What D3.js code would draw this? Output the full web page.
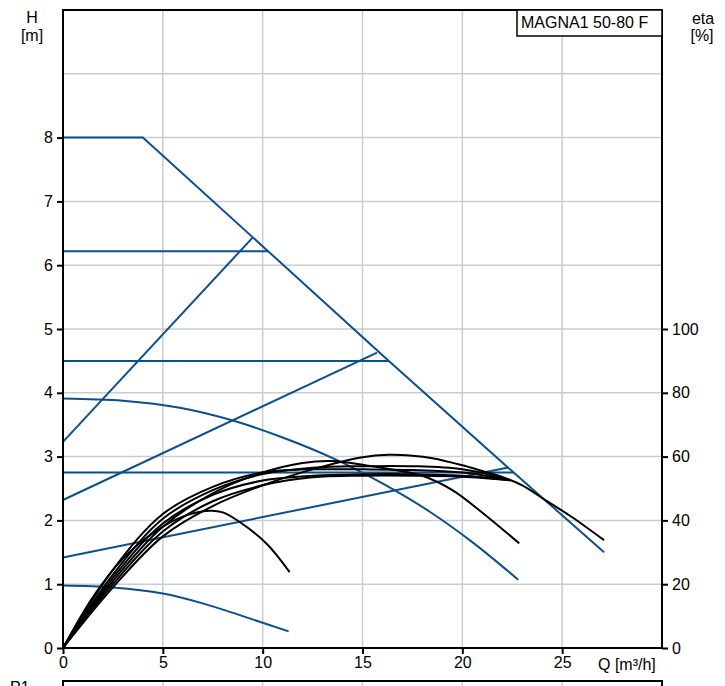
<!DOCTYPE html>
<meta charset="utf-8">
<head>
<style>
  body { margin: 0; background: #fff; }
  text { font-family: "Liberation Sans", Arial, sans-serif; font-size: 16px; fill: #000; }
</style>
</head>
<body>
<div id="chart"></div>
<script src="https://d3js.org/d3.v7.min.js"></script>
<script>

// axis ticks
var qTicks = [0, 5, 10, 15, 20, 25];
var hTicks = [0, 1, 2, 3, 4, 5, 6, 7, 8];
var etaTicks = [0, 20, 40, 60, 80, 100];
var hGrid = [1, 2, 3, 4, 5, 6, 7, 8, 9];

// pump curves, [Q m3/h, H m]
var maxCurve = [[0, 8], [4, 8], [10.27, 6.22], [16.32, 4.5], [22.57, 2.75], [27.1, 1.5]];
var constPressure = [
  [[0, 6.22], [10.27, 6.22]],
  [[0, 4.5], [16.32, 4.5]],
  [[0, 2.75], [22.57, 2.75]]
];
var propPressure = [
  [[0, 3.23], [9.52, 6.44]],
  [[0, 2.32], [15.73, 4.63]],
  [[0, 1.42], [22.3, 2.83]]
];
var fixedSpeed = [
  [[0, 3.91], [3, 3.875], [5.85, 3.765], [8.5, 3.565], [11, 3.3], [13.7, 2.95], [16, 2.58], [18.35, 2.14], [20.5, 1.66], [22.8, 1.07]],
  [[0, 0.98], [2.5, 0.95], [5, 0.855], [7, 0.7], [9, 0.5], [11.3, 0.26]]
];

// efficiency curves, [Q m3/h, eta %]
var etaCurves = [
  [[0, 0], [2.5, 19], [5, 35], [7.5, 44.5], [10, 51], [12.5, 56], [15, 59.8], [16.3, 60.6], [17.5, 60.3], [18.5, 59.5], [20, 57.3], [21, 55.5], [22, 53.6], [23, 51], [24.2, 46.2], [25.5, 41], [27.1, 33.8]],
  [[0, 0], [2.5, 21], [5, 38], [7.5, 48.5], [10, 55], [12, 58], [13.5, 58.6], [15.2, 57.2], [16.7, 55.7], [18, 54], [19.5, 49.5], [20.85, 43.2], [22.85, 32.8]],
  [[0, 0], [1.5, 16], [3, 28], [4.5, 36], [6, 41.2], [7.35, 43], [8, 42.5], [8.85, 39.5], [10.2, 32.7], [11.35, 23.8]],
  [[0, 0], [2.5, 23], [5, 40.5], [7.5, 49.5], [10, 54.5], [12.5, 56.5], [15, 57], [17.5, 57], [20, 56], [22.4, 52.6]],
  [[0, 0], [2.5, 24.5], [5, 42], [7.5, 50.5], [10, 55], [12.5, 56], [15, 56], [17.5, 55.8], [20, 55], [22.4, 52.6]],
  [[0, 0], [2.5, 22], [5, 39], [7.5, 48], [10, 52.5], [12.5, 54], [15, 54.5], [17.5, 54.5], [20, 54], [22.4, 52.6]],
  [[0, 0], [2.5, 20], [5, 36.5], [7.5, 46], [10, 51], [12.5, 53.5], [15, 54], [17.5, 54], [20, 53.7], [22.4, 52.6]]
];

var width = 725, height = 686;
var plot = {left: 63, right: 662, top: 10, bottom: 648};
var blue = "#0b4f8c";

var svg = d3.select("#chart").append("svg")
  .attr("width", width)
  .attr("height", height);

var x = d3.scaleLinear().domain([0, 30]).range([plot.left, plot.right]);
var y = d3.scaleLinear().domain([0, 10]).range([plot.bottom, plot.top]);
var yEta = d3.scaleLinear().domain([0, 100]).range([y(0), y(5)]);

// grid
svg.append("g").selectAll("line").data(qTicks.slice(1))
  .enter().append("line")
  .attr("x1", function(d) { return x(d); }).attr("x2", function(d) { return x(d); })
  .attr("y1", plot.top).attr("y2", plot.bottom)
  .attr("stroke", "#c9cdd1").attr("stroke-width", 1.5);
svg.append("g").selectAll("line").data(hGrid)
  .enter().append("line")
  .attr("x1", plot.left).attr("x2", plot.right)
  .attr("y1", function(d) { return y(d); }).attr("y2", function(d) { return y(d); })
  .attr("stroke", "#c9cdd1").attr("stroke-width", 1.5);

// lower panel (cut off by the window)
svg.append("g").selectAll("line").data(qTicks.slice(1))
  .enter().append("line")
  .attr("x1", function(d) { return x(d); }).attr("x2", function(d) { return x(d); })
  .attr("y1", 681).attr("y2", height)
  .attr("stroke", "#c9cdd1").attr("stroke-width", 1.5);
svg.append("path")
  .attr("d", "M" + plot.left + "," + height + "V681H" + plot.right + "V" + height)
  .attr("fill", "none").attr("stroke", "#000").attr("stroke-width", 2);
svg.append("text").attr("x", 10).attr("y", 693).text("P1");

var line = d3.line().x(function(d) { return x(d[0]); }).y(function(d) { return y(d[1]); });
var smooth = d3.line().curve(d3.curveCatmullRom.alpha(0.5))
  .x(function(d) { return x(d[0]); }).y(function(d) { return y(d[1]); });
var etaLine = d3.line().curve(d3.curveCatmullRom.alpha(0.5))
  .x(function(d) { return x(d[0]); }).y(function(d) { return yEta(d[1]); });

var curves = svg.append("g").attr("fill", "none");
constPressure.concat(propPressure).forEach(function(c) {
  curves.append("path").attr("d", line(c)).attr("stroke", blue).attr("stroke-width", 2);
});
fixedSpeed.forEach(function(c) {
  curves.append("path").attr("d", smooth(c)).attr("stroke", blue).attr("stroke-width", 2);
});
curves.append("path").attr("d", line(maxCurve)).attr("stroke", blue).attr("stroke-width", 2);
etaCurves.forEach(function(c) {
  curves.append("path").attr("d", etaLine(c)).attr("stroke", "#000").attr("stroke-width", 2);
});

// frame
svg.append("rect")
  .attr("x", plot.left).attr("y", plot.top)
  .attr("width", plot.right - plot.left).attr("height", plot.bottom - plot.top)
  .attr("fill", "none").attr("stroke", "#000").attr("stroke-width", 2);

// axes
svg.append("g")
  .attr("transform", "translate(0," + plot.bottom + ")")
  .call(d3.axisBottom(x).tickValues(qTicks).tickSize(6).tickPadding(3))
  .call(function(g) { g.select(".domain").remove(); });
svg.append("g")
  .attr("transform", "translate(" + plot.left + ",0)")
  .call(d3.axisLeft(y).tickValues(hTicks).tickSize(6).tickPadding(4))
  .call(function(g) { g.select(".domain").remove(); });
svg.append("g")
  .attr("transform", "translate(" + plot.right + ",0)")
  .call(d3.axisRight(yEta).tickValues(etaTicks).tickSize(6).tickPadding(4))
  .call(function(g) { g.select(".domain").remove(); });
svg.selectAll(".tick line").attr("stroke", "#000").attr("stroke-width", 2);
svg.selectAll(".tick text").style("font-size", "16px").style("font-family", "'Liberation Sans', Arial, sans-serif");

// axis titles
svg.append("text").attr("x", 32).attr("y", 23).attr("text-anchor", "middle").text("H");
svg.append("text").attr("x", 32).attr("y", 41).attr("text-anchor", "middle").text("[m]");
svg.append("text").attr("x", 703).attr("y", 24).attr("text-anchor", "middle").text("eta");
svg.append("text").attr("x", 702).attr("y", 41).attr("text-anchor", "middle").text("[%]");
svg.append("text").attr("x", 598).attr("y", 670).text("Q [m\u00b3/h]");

// legend box
svg.append("rect")
  .attr("x", 517).attr("y", plot.top).attr("width", plot.right - 517).attr("height", 26)
  .attr("fill", "#fff").attr("stroke", "#000").attr("stroke-width", 1.5);
svg.append("text").attr("x", 521).attr("y", 28).text("MAGNA1 50-80 F");

</script>
</body>
